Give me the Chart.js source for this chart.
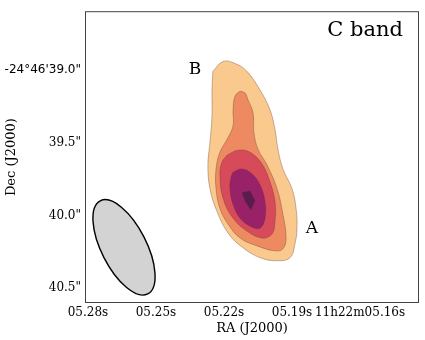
<!DOCTYPE html>
<html>
<head>
<meta charset="utf-8">
<script src="https://cdn.jsdelivr.net/npm/chart.js@4/dist/chart.umd.min.js"></script>
<style>
  html, body { margin: 0; padding: 0; background: #fff; }
  #wrap { width: 425px; height: 340px; }
</style>
</head>
<body>
<div id="wrap"><canvas id="chart"></canvas></div>
<script>
// axes: RA seconds (11h22m..) and Dec arcsec (-24°46'..)
const raTicks = [5.28, 5.25, 5.22, 5.19, 5.16];
const raTickLabels = ['05.28s', '05.25s', '05.22s', '05.19s', '11h22m05.16s'];
const decTicks = [39.0, 39.5, 40.0, 40.5];
const decTickLabels = ['-24°46\'39.0"', '39.5"', '40.0"', '40.5"'];

// filled contour levels, outermost first, points as [ra, dec]
const level1 = [
  [5.2249, 39.008], [5.2204, 38.940], [5.2151, 38.954], [5.2099, 39.008],
  [5.2041, 39.137], [5.1997, 39.273], [5.1975, 39.409], [5.1962, 39.544],
  [5.1940, 39.680], [5.1900, 39.816], [5.1882, 39.952], [5.1878, 40.088],
  [5.1887, 40.196], [5.1909, 40.291], [5.1966, 40.312], [5.2041, 40.291],
  [5.2116, 40.223], [5.2182, 40.122], [5.2231, 39.972], [5.2262, 39.816],
  [5.2271, 39.653], [5.2262, 39.497], [5.2253, 39.314], [5.2253, 39.137]
];
const level2 = [
  [5.2129, 39.144], [5.2151, 39.178], [5.2160, 39.273], [5.2160, 39.382],
  [5.2187, 39.477], [5.2218, 39.565], [5.2235, 39.680], [5.2235, 39.816],
  [5.2218, 39.952], [5.2182, 40.060], [5.2129, 40.156], [5.2054, 40.210],
  [5.1975, 40.244], [5.1940, 40.230], [5.1926, 40.156], [5.1940, 39.993],
  [5.1966, 39.816], [5.2010, 39.653], [5.2050, 39.544], [5.2068, 39.429],
  [5.2072, 39.293], [5.2094, 39.205], [5.2107, 39.158]
];
const level3 = [
  [5.2187, 39.585], [5.2138, 39.551], [5.2085, 39.565], [5.2032, 39.646],
  [5.1997, 39.769], [5.1975, 39.904], [5.1975, 40.040], [5.1988, 40.128],
  [5.2032, 40.156], [5.2099, 40.108], [5.2160, 40.020], [5.2204, 39.884],
  [5.2218, 39.721], [5.2209, 39.633]
];
const level4 = [
  [5.2160, 39.701], [5.2121, 39.680], [5.2076, 39.714], [5.2041, 39.789],
  [5.2019, 39.904], [5.2019, 40.020], [5.2041, 40.088], [5.2085, 40.074],
  [5.2129, 40.020], [5.2160, 39.925], [5.2174, 39.816], [5.2169, 39.735]
];
const level5 = [
  [5.2121, 39.843], [5.2085, 39.830], [5.2063, 39.898], [5.2081, 39.965],
  [5.2107, 39.904]
];
const levelColors = ['#fac98e', '#ee8a62', '#d64a5a', '#982168', '#5c1a50'];

// synthesized beam: centre [ra, dec], axes in arcsec, position angle in degrees
const beamCenter = [5.2641, 40.220];
const beamMajor = 0.72;
const beamMinor = 0.31;
const beamPA = 27;

// annotations
const labelC = { text: 'C band', ra: 5.1578, dec: 38.730 };
const labelB = { text: 'B', ra: 5.2328, dec: 38.995 };
const labelA = { text: 'A', ra: 5.1812, dec: 40.088 };

function closed(pts) {
  return pts.concat([pts[0]]).map(([x, y]) => ({ x, y }));
}

const levels = [level1, level2, level3, level4, level5];
const datasets = levels.map((pts, i) => ({
  data: closed(pts),
  showLine: true,
  fill: 'shape',
  backgroundColor: levelColors[i],
  borderColor: 'rgba(95,60,50,0.6)',
  borderWidth: 0.6,
  pointRadius: 0,
  tension: i === 4 ? 0 : 0.4,
  order: levels.length - i,
}));

const serif = 'DejaVu Serif';

const extras = {
  id: 'extras',
  beforeDatasetsDraw(chart) {
    const { ctx, scales: { x, y } } = chart;
    const cx = x.getPixelForValue(beamCenter[0]);
    const cy = y.getPixelForValue(beamCenter[1]);
    const pxPerArcsec = Math.abs(y.getPixelForValue(beamCenter[1] + 1) - cy);
    ctx.save();
    ctx.beginPath();
    ctx.ellipse(cx, cy, beamMinor / 2 * pxPerArcsec, beamMajor / 2 * pxPerArcsec,
      -beamPA * Math.PI / 180, 0, Math.PI * 2);
    ctx.fillStyle = '#d3d3d3';
    ctx.fill();
    ctx.lineWidth = 1.4;
    ctx.strokeStyle = '#000';
    ctx.stroke();
    ctx.restore();
  },
  afterDraw(chart) {
    const { ctx, chartArea: a, scales: { x, y } } = chart;
    ctx.save();
    ctx.strokeStyle = '#444';
    ctx.lineWidth = 1;
    ctx.strokeRect(a.left + 0.5, a.top + 0.5, a.right - a.left - 1, a.bottom - a.top - 1);
    ctx.fillStyle = '#000';
    ctx.textAlign = 'center';
    ctx.textBaseline = 'middle';
    ctx.font = '21px "' + serif + '"';
    ctx.fillText(labelC.text, x.getPixelForValue(labelC.ra), y.getPixelForValue(labelC.dec));
    ctx.font = '17px "' + serif + '"';
    ctx.fillText(labelB.text, x.getPixelForValue(labelB.ra), y.getPixelForValue(labelB.dec));
    ctx.fillText(labelA.text, x.getPixelForValue(labelA.ra), y.getPixelForValue(labelA.dec));
    ctx.restore();
  }
};

new Chart(document.getElementById('chart'), {
  type: 'scatter',
  data: { datasets },
  options: {
    responsive: true,
    maintainAspectRatio: false,
    animation: false,
    events: [],
    layout: { padding: { top: 7, right: 6, left: 0, bottom: 0 } },
    plugins: { legend: { display: false }, tooltip: { enabled: false } },
    scales: {
      x: {
        type: 'linear',
        min: 5.134,
        max: 5.2813,
        reverse: true,
        afterBuildTicks: (s) => { s.ticks = raTicks.map((v) => ({ value: v })); },
        afterFit: (s) => { s.height = 37; },
        grid: { display: false, drawTicks: false },
        border: { display: false },
        ticks: {
          autoSkip: false,
          maxRotation: 0,
          padding: 3,
          color: '#000',
          font: { family: serif, size: 12 },
          callback: (v, i) => raTickLabels[i],
        },
        title: {
          display: true,
          text: 'RA (J2000)',
          color: '#000',
          font: { family: serif, size: 13 },
          padding: { top: 0, bottom: 4 },
        },
      },
      y: {
        type: 'linear',
        min: 38.594,
        max: 40.603,
        reverse: true,
        afterBuildTicks: (s) => { s.ticks = decTicks.map((v) => ({ value: v })); },
        afterFit: (s) => { s.width = 85; },
        grid: { display: false, drawTicks: false },
        border: { display: false },
        ticks: {
          autoSkip: false,
          padding: 4,
          color: '#000',
          font: (c) => ({ family: c.index === 0 ? 'DejaVu Sans' : serif, size: 12 }),
          callback: (v, i) => decTickLabels[i],
        },
        title: {
          display: true,
          text: 'Dec (J2000)',
          color: '#000',
          font: { family: serif, size: 13 },
          padding: { top: 4, bottom: 0 },
        },
      },
    },
  },
  plugins: [extras],
});
</script>
</body>
</html>
